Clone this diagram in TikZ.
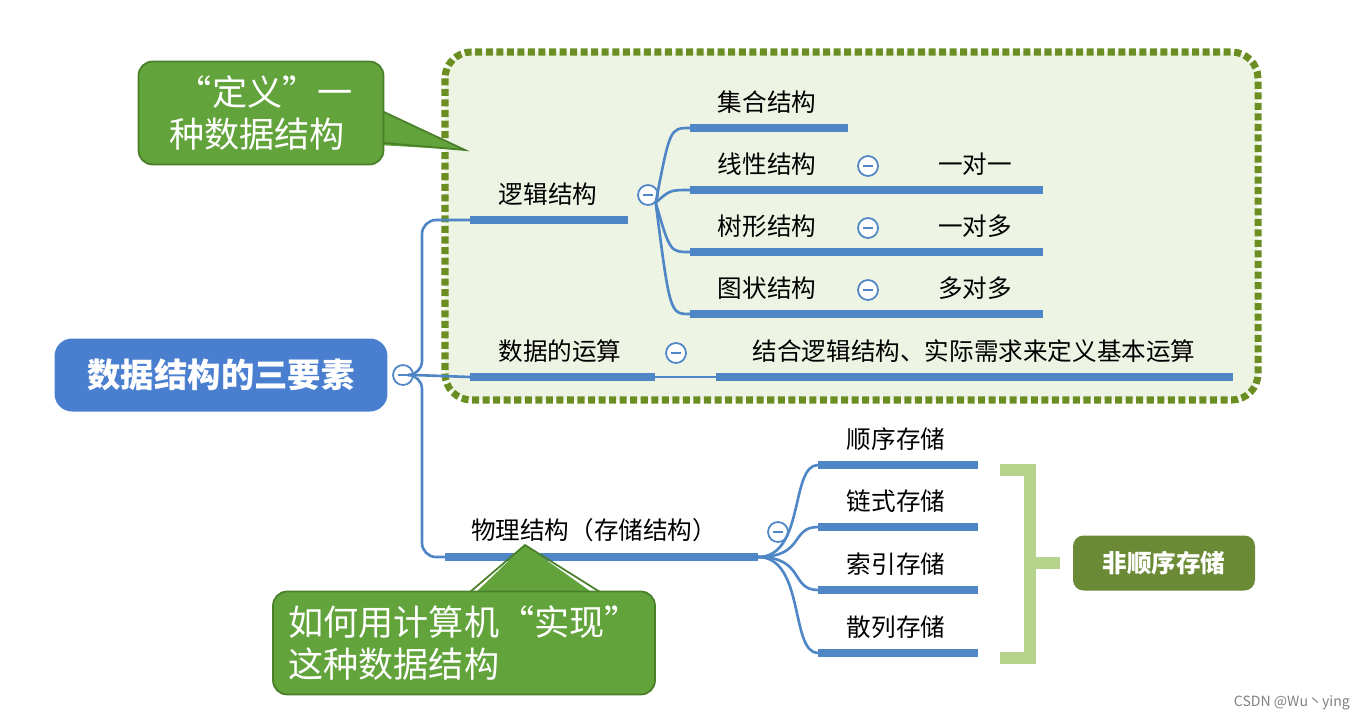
\documentclass[tikz,border=0pt]{standalone}
\usepackage{fontspec}
\setmainfont{Noto Sans CJK SC}
\usetikzlibrary{calc}
\definecolor{mapblue}{HTML}{4F86C6}
\definecolor{rootblue}{HTML}{4A7FD0}
\definecolor{callgreen}{HTML}{62A33C}
\definecolor{calledge}{HTML}{4A7F2A}
\definecolor{olive}{HTML}{6A8A35}
\definecolor{boxfill}{HTML}{EEF4E4}
\definecolor{boxedge}{HTML}{6B8E23}
\definecolor{bracket}{HTML}{B5D38A}
\tikzset{
  bar/.style={mapblue,line width=4pt},
  link/.style={mapblue,line width=1.5pt},
  lbl/.style={anchor=base,font=\fontsize{14}{16}\selectfont},
  minus/.style={circle,draw=mapblue,fill=white,line width=1pt,
    minimum size=0.4cm,inner sep=0pt,
    path picture={\draw[mapblue,line width=1.2pt]
      ($(path picture bounding box.center)+(-0.1cm,0cm)$) --
      ($(path picture bounding box.center)+(0.1cm,0cm)$);}},
  callout/.style={fill=callgreen,draw=calledge,line width=1pt,
    rounded corners=8pt,text=white,align=left,
    font=\fontsize{20}{24}\selectfont}
}
\begin{document}
\begin{tikzpicture}[x=0.02cm,y=-0.02cm]
\useasboundingbox (0,0) rectangle (1371,720);
% frame round the definition part
\draw[boxedge,fill=boxfill,line width=4pt,dotted,rounded corners=15pt]
  (445,52) rectangle (1258,400);
% root
\node[fill=rootblue,rounded corners=10pt,text=white,
  minimum width=6.66cm,minimum height=1.46cm,
  font=\bfseries\fontsize{19}{22}\selectfont] (root) at (221,375) {数据结构的三要素};
\node[minus] (mroot) at (403,375) {};
% trunk
\draw[link,rounded corners=8pt] (mroot.east) -- (422,375) |- (470,220);
\draw[link,rounded corners=8pt] (mroot.east) -- (422,375) |- (445,557);
\draw[link] (mroot.east) -- (470,377);
% logic structure
\coordinate (logic) at (470,220);
\draw[bar] (logic) -- (628,220);
\node[lbl] (tlogic) at (548,203) {逻辑结构};
\node[minus] (mlogic) at (648,195) {};
\foreach \y/\txt/\rel [count=\i] in {128/集合结构/,190/线性结构/一对一,
    252/树形结构/一对多,314/图状结构/多对多}{
  \draw[link] (mlogic.south east) .. controls (670,\y) and (670,\y) .. (690,\y);
  \draw[bar] (690,\y) -- (848,\y);
  \node[lbl] (kind\i) at (767,\y-17) {\txt};
  \ifnum\i>1
    \node[minus] (mk\i) at (868,\y-24) {};
    \draw[bar] (848,\y) -- (910,\y);
    \draw[bar] (910,\y) -- (1043,\y);
    \node[lbl] (rel\i) at (975,\y-17) {\rel};
  \fi
}
% operations
\draw[bar] (470,377) -- (655,377);
\node[lbl] (tops) at (560,360) {数据的运算};
\node[minus] (mops) at (676,353) {};
\draw[link] (655,377) -- (716,377);
\draw[bar] (716,377) -- (1233,377);
\node[lbl] (tdef) at (974,360) {结合逻辑结构、实际需求来定义基本运算};
% physical structure
\draw[bar] (445,557) -- (758,557);
\node[lbl] (tphys) at (594,539) {物理结构（存储结构）};
\node[minus] (mphys) at (778,532) {};
\foreach \y/\txt [count=\i] in {465/顺序存储,527/链式存储,590/索引存储,653/散列存储}{
  \draw[link] (758,557) .. controls (805,557) and (790,\y) .. (818,\y);
  \draw[bar] (818,\y) -- (978,\y);
  \node[lbl] (store\i) at (896,\y-17) {\txt};
}
% bracket
\draw[bracket,line width=7pt] (1000,470) -- (1030,470) -- (1030,658) -- (1000,658);
\draw[bracket,line width=7pt] (1030,563) -- (1060,563);
\node[fill=olive,rounded corners=6pt,text=white,minimum width=3.64cm,
  minimum height=1.1cm,font=\bfseries\fontsize{14}{16}\selectfont]
  (nonseq) at (1164,563) {非顺序存储};
% callouts
\fill[callgreen] (378,110) -- (465,150) -- (378,145) -- cycle;
\draw[calledge,line width=1pt] (384,112) -- (465,150) -- (384,143);
\node[callout,minimum width=4.9cm,minimum height=2.06cm] (cdef) at (261,113)
  {\hspace*{0.15cm}“定义”一\\种数据结构};
\fill[callgreen] (470,598) -- (525,545) -- (600,598) -- cycle;
\draw[calledge,line width=1pt] (470,592) -- (525,545) -- (600,592);
\node[callout,minimum width=7.64cm,minimum height=2.06cm] (cimpl) at (464,643)
  {如何用计算机“实现”\\这种数据结构};
\node[gray,font=\fontsize{8}{10}\selectfont,anchor=east] (mark) at (1356,703) {CSDN @Wu丶ying};
\end{tikzpicture}
\end{document}
